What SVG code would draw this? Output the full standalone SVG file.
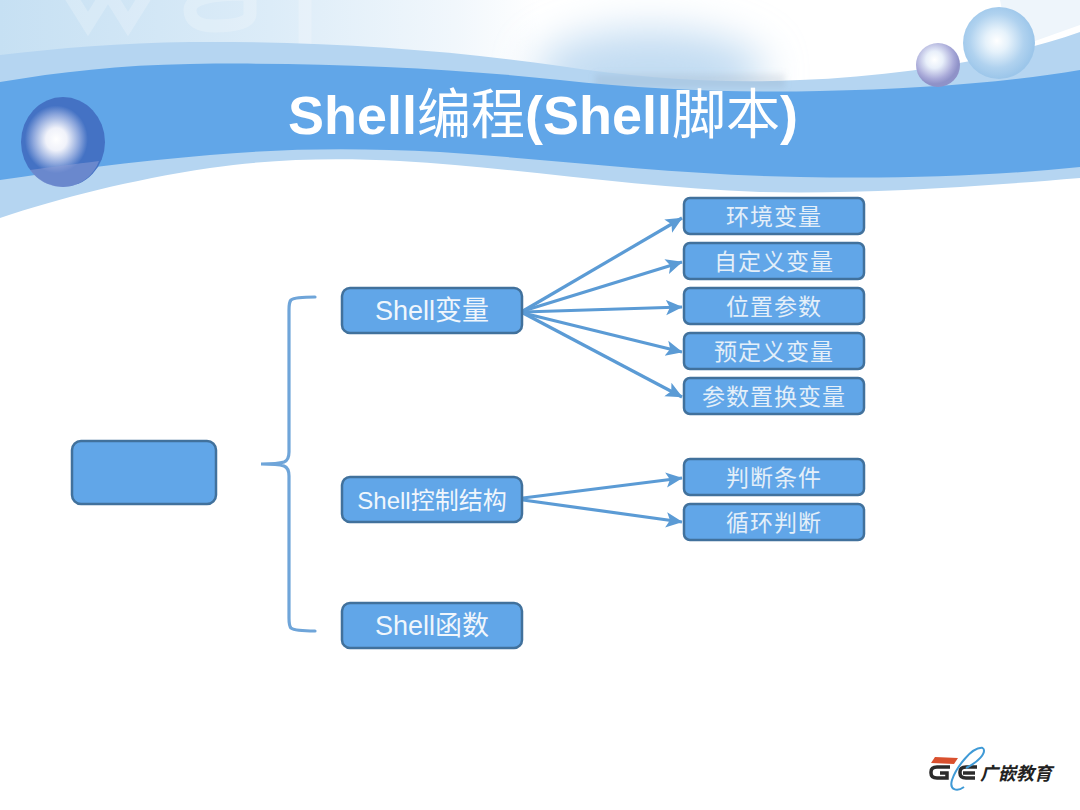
<svg xmlns="http://www.w3.org/2000/svg" width="1080" height="810" viewBox="0 0 1080 810">
<style>
.n{fill:#61a6e8;stroke:#41719c;stroke-width:2.5}
.c{fill:none;stroke:#5b9bd5;stroke-width:3.2;marker-end:url(#a)}
.b{fill:none;stroke:#6fa5d9;stroke-width:3.2;stroke-linecap:round}
.t{fill:#fff;text-anchor:middle;font-family:"Liberation Sans","Noto Sans CJK SC",sans-serif}
.m{fill:#f0f6fc}
.s{fill:#e4eff9;font-family:"Noto Sans CJK SC",sans-serif;font-size:23px;text-anchor:middle;letter-spacing:1px}
.w{fill:none;stroke:#fff;stroke-opacity:.22;stroke-width:13}
</style>
<defs>
<marker id="a" markerWidth="6" markerHeight="6" refX="5" refY="3" orient="auto" markerUnits="strokeWidth"><path d="M0,0.6L5.2,3L0,5.4L1.2,3Z" fill="#5b9bd5"/></marker>
<linearGradient id="sky" x1="0" y1="0" x2="1" y2="0"><stop offset="0" stop-color="#c6e0f3"/><stop offset=".25" stop-color="#dcecf8"/><stop offset=".42" stop-color="#f1f7fc"/><stop offset=".5" stop-color="#fff"/><stop offset="1" stop-color="#fff"/></linearGradient>
<radialGradient id="o1" cx=".42" cy=".47" r=".5"><stop offset="0" stop-color="#fff"/><stop offset=".25" stop-color="#f0f2fa"/><stop offset=".55" stop-color="#8ca6dc"/><stop offset=".75" stop-color="#4472c4"/><stop offset="1" stop-color="#4472c4"/></radialGradient>
<radialGradient id="o2" cx=".42" cy=".38" r=".55"><stop offset="0" stop-color="#fff"/><stop offset=".35" stop-color="#e8effa"/><stop offset=".8" stop-color="#a8a9d8"/><stop offset="1" stop-color="#8f92c8"/></radialGradient>
<radialGradient id="o3" cx=".47" cy=".47" r=".52"><stop offset="0" stop-color="#fff"/><stop offset=".3" stop-color="#e6f2fb"/><stop offset=".72" stop-color="#b0d2ef"/><stop offset="1" stop-color="#9cc6ea"/></radialGradient>
<filter id="bl" x="-40%" y="-80%" width="180%" height="260%"><feGaussianBlur stdDeviation="20"/></filter>
<filter id="bs" x="-10%" y="-50%" width="120%" height="200%"><feGaussianBlur stdDeviation="3"/></filter>
</defs>
<rect width="1080" height="810" fill="#fff"/>
<g id="banner">
<rect width="1080" height="110" fill="url(#sky)"/>
<ellipse cx="650" cy="72" rx="115" ry="42" fill="#c2dcf2" filter="url(#bl)"/>
<path d="M1000,0H1080V25L1010,50Z" fill="#eef5fb"/>
<path class="w" d="M68,-8L88,24L108,-8L128,24L148,-8"/>
<path class="w" d="M250,-8V14Q250,26 215,26Q190,26 190,10Q190,-6 245,-6"/>
<path class="w" d="M305,-8V50"/>
<path d="M0,55C60,48 120,43 190,42C320,41 450,50 560,66C640,78 720,84 800,80C900,76 1000,60 1080,32V178C960,188 860,194 760,192C640,188 520,168 400,161C340,158 280,158 210,168C130,180 60,198 0,218Z" fill="#b5d5f1"/>
<rect x="595" y="74" width="190" height="14" fill="#7d93aa" fill-opacity=".18" filter="url(#bs)"/>
<path d="M0,82C60,72 120,65 190,64C320,62 450,68 560,80C650,90 740,93 820,91C920,89 1010,82 1080,70V167C990,176 900,179 800,177C680,175 560,160 440,152C360,148 290,148 210,155C130,162 60,171 0,180Z" fill="#61a6e8"/>
</g>
<g id="orbs">
<ellipse cx="63" cy="142" rx="42" ry="45" fill="url(#o1)"/>
<path d="M30,170C50,167 75,164 99,161C94,175 80,187 63,187C50,187 38,181 30,170Z" fill="#8a9ad6" fill-opacity=".55"/>
<circle cx="938" cy="65" r="22" fill="url(#o2)"/>
<circle cx="999" cy="43" r="36" fill="url(#o3)"/>
</g>
<text id="title" class="t" x="543" y="134" font-size="54" font-weight="700">Shell<tspan font-weight="400">编程</tspan>(Shell<tspan font-weight="400">脚本</tspan>)</text>
<g id="connectors">
<path class="c" d="M523,311L682,218"/>
<path class="c" d="M523,311L682,262"/>
<path class="c" d="M523,312L682,307"/>
<path class="c" d="M523,313L682,352"/>
<path class="c" d="M523,313L682,397"/>
<path class="c" d="M523,498L682,478"/>
<path class="c" d="M523,500L682,522"/>
<path class="b" d="M315,297Q295,297 291,300Q289,302 289,310V452Q289,460 284,462Q278,464 261,464Q278,464 284,466Q289,468 289,476V618Q289,626 291,628Q295,631 315,631"/>
</g>
<g id="root"><rect class="n" x="72" y="441" width="144" height="63" rx="9"/></g>
<g id="shell-var"><rect class="n" x="342" y="288" width="180" height="45" rx="8"/><text class="t m" x="432" y="320" font-size="27">Shell变量</text></g>
<g id="shell-ctrl"><rect class="n" x="342" y="477" width="180" height="45" rx="8"/><text class="t m" x="432" y="509" font-size="24">Shell控制结构</text></g>
<g id="shell-func"><rect class="n" x="342" y="603" width="180" height="45" rx="8"/><text class="t m" x="432" y="635" font-size="27">Shell函数</text></g>
<g id="v1"><rect class="n" x="684" y="198" width="180" height="36" rx="6"/><text class="s" x="774" y="225">环境变量</text></g>
<g id="v2"><rect class="n" x="684" y="243" width="180" height="36" rx="6"/><text class="s" x="774" y="270">自定义变量</text></g>
<g id="v3"><rect class="n" x="684" y="288" width="180" height="36" rx="6"/><text class="s" x="774" y="315">位置参数</text></g>
<g id="v4"><rect class="n" x="684" y="333" width="180" height="36" rx="6"/><text class="s" x="774" y="360">预定义变量</text></g>
<g id="v5"><rect class="n" x="684" y="378" width="180" height="36" rx="6"/><text class="s" x="774" y="405">参数置换变量</text></g>
<g id="c1"><rect class="n" x="684" y="459" width="180" height="36" rx="6"/><text class="s" x="774" y="486">判断条件</text></g>
<g id="c2"><rect class="n" x="684" y="504" width="180" height="36" rx="6"/><text class="s" x="774" y="531">循环判断</text></g>
<g id="logo">
<path d="M935,757L958,758L954,764L931,763Z" fill="#d9502e"/>
<g fill="none" stroke="#2b2b2b" stroke-width="3.5">
<path d="M950,767H937Q931,767 931,772V773Q931,778 937,778H947V773H940"/>
<path d="M977,767H966Q960,767 960,772V773Q960,778 966,778H975"/>
<path d="M963,773H975"/>
</g>
<path d="M983,748C972,746 956,768 952,780C949,790 957,792 964,787M983,748C987,753 978,762 966,768" fill="none" stroke="#3f9ad6" stroke-width="2"/>
<text x="980" y="780" font-size="18" font-weight="700" font-style="italic" fill="#222" font-family="'Noto Sans CJK SC',sans-serif">广嵌教育</text>
</g>
</svg>
